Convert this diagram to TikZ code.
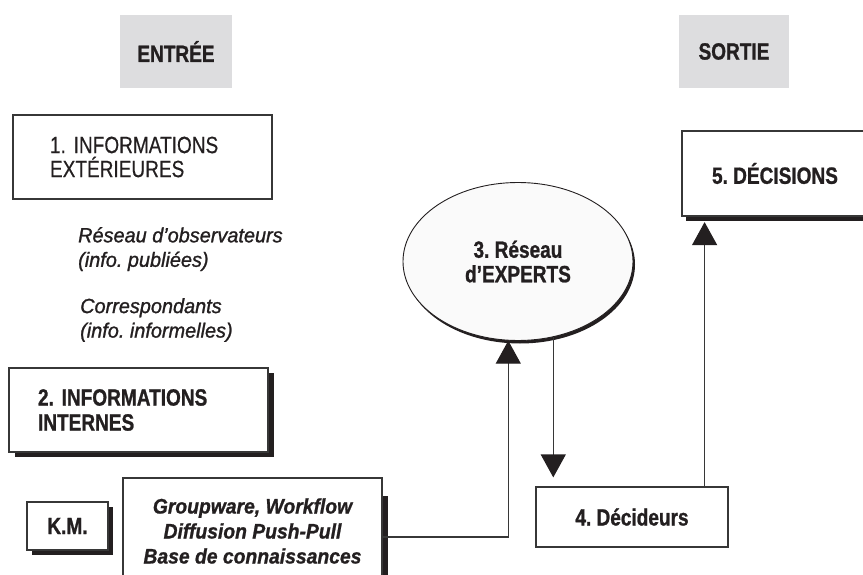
\documentclass[tikz,border=0pt]{standalone}
\usepackage{fontspec}
\setmainfont{Liberation Sans}[FakeStretch=0.81, UprightFeatures={FakeBold=0.4}, BoldFeatures={FakeBold=1}]
\newfontfamily\itfam{Liberation Sans}[FakeStretch=0.97, ItalicFeatures={FakeBold=1.2}]
\newfontfamily\gwfam{Liberation Sans}[FakeStretch=0.92, BoldItalicFeatures={FakeBold=1}]
\usetikzlibrary{shapes.geometric,arrows.meta,shadows}
\definecolor{ink}{RGB}{35,31,32}
\definecolor{hdr}{RGB}{221,221,223}
\definecolor{ellfill}{RGB}{250,250,250}
\definecolor{edge}{RGB}{55,55,55}
\begin{document}
\frenchspacing
\begin{tikzpicture}[x=1pt,y=-1pt,
  every node/.style={text=ink},
  bigfont/.style={font=\frenchspacing\fontsize{23.5}{24.5}\selectfont\bfseries},
  hdrbox/.style={fill=hdr, minimum width=112pt, minimum height=73pt, inner sep=0pt, bigfont},
  plainbox/.style={draw=edge, line width=1.2pt, fill=white, inner sep=0pt},
  shad/.style 2 args={drop shadow={shadow xshift=#1, shadow yshift=#2, fill=ink, opacity=1}},
  itnote/.style={anchor=north west, inner sep=0pt, align=left, font=\frenchspacing\itfam\itshape\fontsize{20.5}{24.5}\selectfont},
  conn/.style={draw=edge, line width=1.2pt, -{Triangle[width=25pt,length=23pt,color=ink]}}
]
\useasboundingbox (0,0) rectangle (863,575);
\clip (0,0) rectangle (863,575);

\node[hdrbox] (entree) at (176,51.5) {ENTRÉE};
\node[hdrbox, minimum width=110pt] (sortie) at (734,51.5) {SORTIE};

\node[plainbox, text width=185pt, inner xsep=37pt, minimum height=84pt, align=left,
      font=\frenchspacing\fontsize{23.5}{24}\selectfont] (ext) at (142.5,157) {1. INFORMATIONS\\EXTÉRIEURES};

\node[itnote] (obs) at (78,227) {Réseau d’observateurs\\(info. publiées)};
\node[itnote] (corr) at (80,298) {Correspondants\\(info. informelles)};

\node[plainbox, shad={6pt}{-5pt}, text width=201pt, inner xsep=29pt, minimum height=84pt, align=left,
      font=\frenchspacing\fontsize{23.5}{25}\selectfont\bfseries] (int) at (138.5,410) {2. INFORMATIONS\\INTERNES};

\node[plainbox, shad={5pt}{-5pt}, bigfont, minimum width=81pt, minimum height=48pt] (km) at (67.5,526) {K.M.};

\node[plainbox, shad={6pt}{-18pt}, minimum width=259pt, minimum height=106pt, align=center,
      font=\frenchspacing\gwfam\bfseries\itshape\fontsize{21}{25}\selectfont] (gw) at (252.5,531)
      {Groupware, Workflow\\Diffusion Push-Pull\\Base de connaissances};

\node[ellipse, draw=ink, line width=0.9pt, fill=ellfill, shad={2pt}{-3pt}, minimum width=230pt,
      minimum height=158pt, inner sep=0pt, align=center, bigfont] (ell) at (518,261.5) {3. Réseau\\d’EXPERTS};

\node[plainbox, bigfont, minimum width=192pt, minimum height=60pt] (dec4) at (632,517) {4. Décideurs};
\node[plainbox, shad={4pt}{-5pt}, bigfont, minimum width=186pt, minimum height=85pt] (dec5) at (775,173.5) {5. DÉCISIONS};

\draw[conn] ([yshift=-6pt]gw.east) -| (ell.263);
\draw[conn, shorten >=9pt] (ell.295) -- (ell.295 |- dec4.north);
\draw[conn, shorten >=5.5pt] ([xshift=-24pt]dec4.north east) -- ([xshift=-24pt]dec4.north east |- dec5.south);
\end{tikzpicture}
\end{document}
